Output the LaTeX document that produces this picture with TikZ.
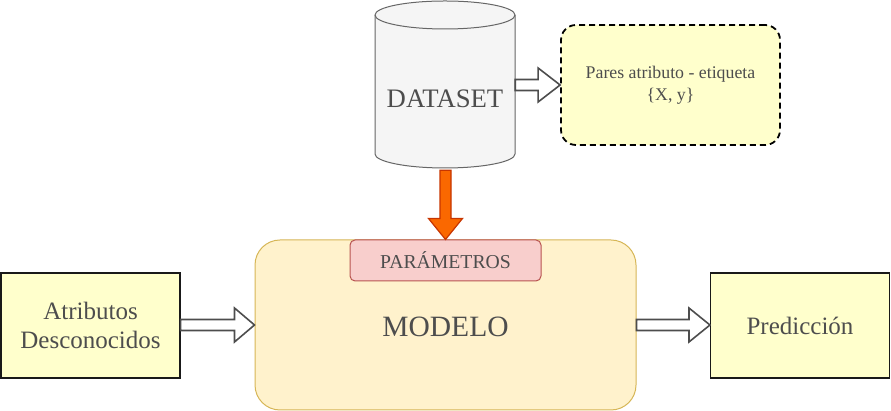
\documentclass[tikz,border=0pt]{standalone}
\usepackage{fontspec}
\setmainfont{Liberation Serif}
\usetikzlibrary{calc}
\definecolor{txtgray}{HTML}{4D4D4D}
\definecolor{cylfill}{HTML}{F5F5F5}
\definecolor{cylline}{HTML}{666666}
\definecolor{yel}{HTML}{FFFFCC}
\definecolor{modfill}{HTML}{FFF2CC}
\definecolor{modline}{HTML}{D6B656}
\definecolor{parfill}{HTML}{F8CECC}
\definecolor{parline}{HTML}{B85450}
\definecolor{orfill}{HTML}{FA6800}
\definecolor{orline}{HTML}{C73500}
\tikzset{
  txt/.style={text=txtgray, align=center, inner sep=0pt},
  yelbox/.style={draw=black!90, line width=1.1pt, fill=yel, inner sep=0pt, minimum width=179pt, minimum height=105pt, txt, font=\fontsize{25}{29.5}\selectfont},
  barrow/.style={draw=txtgray, line width=1.6pt, fill=white, line join=miter},
  oarrow/.style={draw=orline, line width=1.2pt, fill=orfill, line join=miter}
}
\begin{document}
\begin{tikzpicture}[x=1pt,y=1pt]
\useasboundingbox (0,0) rectangle (891,411);
% cylinder
\filldraw[fill=cylfill, draw=cylline, line width=1pt]
  (375,396) -- (375,257) arc[start angle=180,end angle=360,x radius=70,y radius=14]
  -- (515,396) arc[start angle=0,end angle=180,x radius=70,y radius=14] -- cycle;
\draw[cylline, line width=1pt] (375,396) arc[start angle=180,end angle=360,x radius=70,y radius=14];
\node[inner sep=0pt, minimum width=140pt, minimum height=167pt] (ds) at (445,326.5) {};
\node[txt, font=\fontsize{26.7}{30}\selectfont] (dslabel) at (445,312) {DATASET};
% pairs box
\node[draw=black, line width=1.8pt, dash pattern=on 6pt off 4pt, fill=yel, rounded corners=15pt,
  minimum width=219pt, minimum height=120pt, txt, font=\fontsize{17.8}{22}\selectfont]
  (pairs) at (670.5,326) {Pares atributo - etiqueta\\\{X, y\}};
% model box
\node[draw=modline, line width=1pt, fill=modfill, rounded corners=25pt,
  minimum width=381pt, minimum height=170pt, inner sep=0pt] (modelo) at (445.5,86) {};
\node[txt, font=\fontsize{29.5}{33}\selectfont] (modlabel) at (445.5,84) {MODELO};
\node[draw=parline, line width=1pt, fill=parfill, rounded corners=5pt,
  minimum width=191pt, minimum height=41pt, txt, font=\fontsize{19.7}{23}\selectfont]
  (param) at (445.5,150.5) {PARÁMETROS};
% side boxes
\node[yelbox] (atr) at (90.5,85.5) {Atributos\\Desconocidos};
\node[yelbox] (pred) at (800,85.5) {Predicción};
% arrows
\draw[barrow] let \p1=(ds.east), \p2=(pairs.west) in
  (\x1,\y2+5.5pt) -- (\x2-22pt,\y2+5.5pt) -- (\x2-22pt,\y2+17pt) -- (\x2,\y2)
  -- (\x2-22pt,\y2-17pt) -- (\x2-22pt,\y2-5.5pt) -- (\x1,\y2-5.5pt) -- cycle;
\draw[barrow] let \p1=(atr.east), \p2=(modelo.west) in
  (\x1,\y2+5.5pt) -- (\x2-20pt,\y2+5.5pt) -- (\x2-20pt,\y2+17pt) -- (\x2,\y2)
  -- (\x2-20pt,\y2-17pt) -- (\x2-20pt,\y2-5.5pt) -- (\x1,\y2-5.5pt) -- cycle;
\draw[barrow] let \p1=(modelo.east), \p2=(pred.west) in
  (\x1,\y1+5.5pt) -- (\x2-21pt,\y1+5.5pt) -- (\x2-21pt,\y1+17pt) -- (\x2,\y1)
  -- (\x2-21pt,\y1-17pt) -- (\x2-21pt,\y1-5.5pt) -- (\x1,\y1-5.5pt) -- cycle;
\draw[oarrow] let \p1=(ds.south), \p2=(param.north) in
  (\x2-5.5pt,\y1-2pt) -- (\x2-5.5pt,\y2+21pt) -- (\x2-17pt,\y2+21pt) -- (\x2,\y2)
  -- (\x2+17pt,\y2+21pt) -- (\x2+5.5pt,\y2+21pt) -- (\x2+5.5pt,\y1-2pt) -- cycle;
\end{tikzpicture}
\end{document}
